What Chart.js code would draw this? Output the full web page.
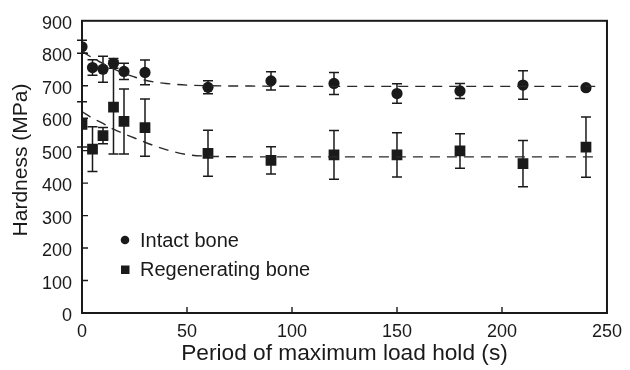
<!DOCTYPE html>
<html lang="en">
<head>
    <meta charset="UTF-8">
    <title>Hardness vs load hold</title>
    <style>
        html, body { margin: 0; padding: 0; background: #fff; }
        .plot { width: 630px; height: 370px; }
    </style>
</head>
<body>
    <div class="plot">
        <canvas id="hardChart"></canvas>
    </div>
    <script src="https://cdn.jsdelivr.net/npm/chart.js@4.4.1/dist/chart.umd.min.js"></script>
    <script>
        // measured points
        const holdTime = [0, 5, 10, 15, 20, 30, 60, 90, 120, 150, 180, 210, 240]
        const intactMean = [820, 756, 751, 769, 744, 741, 695, 715, 707, 676, 684, 702, 694]
        const intactErr = [20, 24, 40, 15, 25, 38, 20, 28, 34, 30, 23, 44, 6]
        const regenMean = [581, 505, 546, 634, 590, 571, 492, 470, 487, 487, 499, 460, 511]
        const regenErr = [70, 69, 25, 144, 100, 88, 71, 42, 75, 68, 53, 71, 93]

        // dashed fit curves
        const fitTime = [0, 5, 10, 15, 20, 25, 30, 35, 40, 50, 60, 80, 120, 245]
        const intactFit = [805, 786, 768, 752, 738, 727, 717, 711, 707, 702, 700, 699, 698, 698]
        const regenFit = [620, 600, 584, 566, 552, 539, 526, 514, 503, 488, 483, 481, 481, 481]

        const xTicks = [0, 50, 100, 150, 200, 250]
        const yTicks = [0, 100, 200, 300, 400, 500, 600, 700, 800, 900]

        const legendNames = ['Intact bone', 'Regenerating bone']
        const xTitle = 'Period of maximum load hold (s)'
        const yTitle = 'Hardness (MPa)'

        const ink = '#1a1a1a'
        const fontName = '"Liberation Sans", Arial, Helvetica, sans-serif'

        function toPoints(xs, ys) {
            return xs.map((v, i) => ({ x: v, y: ys[i] }))
        }

        // error bars, frame, inner ticks, titles, legend
        const decorPlugin = {
            id: 'decor',
            beforeDatasetsDraw(chart) {
                const ctx = chart.ctx
                const xs = chart.scales.x
                const ys = chart.scales.y
                ctx.save()
                ctx.strokeStyle = ink
                ctx.lineWidth = 1.5
                const bars = [[intactMean, intactErr], [regenMean, regenErr]]
                bars.forEach(([mean, err]) => {
                    holdTime.forEach((t, i) => {
                        const px = xs.getPixelForValue(t)
                        const top = ys.getPixelForValue(mean[i] + err[i])
                        const bot = ys.getPixelForValue(mean[i] - err[i])
                        ctx.beginPath()
                        ctx.moveTo(px, top); ctx.lineTo(px, bot)
                        ctx.moveTo(px - 5, top); ctx.lineTo(px + 5, top)
                        ctx.moveTo(px - 5, bot); ctx.lineTo(px + 5, bot)
                        ctx.stroke()
                    })
                })
                ctx.restore()
            },
            afterDraw(chart) {
                const ctx = chart.ctx
                const a = chart.chartArea
                const xs = chart.scales.x
                const ys = chart.scales.y
                ctx.save()
                ctx.strokeStyle = ink
                ctx.lineWidth = 2
                ctx.strokeRect(a.left, a.top, a.right - a.left, a.bottom - a.top)

                ctx.lineWidth = 1.4
                ctx.beginPath()
                xTicks.slice(1, -1).forEach(v => {
                    const px = xs.getPixelForValue(v)
                    ctx.moveTo(px, a.bottom); ctx.lineTo(px, a.bottom - 6)
                })
                yTicks.slice(1, -1).forEach(v => {
                    const py = ys.getPixelForValue(v)
                    ctx.moveTo(a.left, py); ctx.lineTo(a.left + 6, py)
                })
                ctx.stroke()

                // axis titles
                ctx.fillStyle = ink
                ctx.font = '22.7px ' + fontName
                ctx.textAlign = 'center'
                ctx.textBaseline = 'middle'
                ctx.fillText(xTitle, (a.left + a.right) / 2, 354)
                ctx.save()
                ctx.translate(21, 160)
                ctx.rotate(-Math.PI / 2)
                ctx.font = '21px ' + fontName
                ctx.fillText(yTitle, 0, 0)
                ctx.restore()

                // legend
                ctx.font = '20px ' + fontName
                ctx.textAlign = 'left'
                ctx.fillStyle = ink
                ctx.beginPath()
                ctx.arc(125, 240, 4.3, 0, Math.PI * 2)
                ctx.fill()
                ctx.fillRect(121, 265.5, 8.5, 8.5)
                ctx.fillText(legendNames[0], 140, 241)
                ctx.fillText(legendNames[1], 140, 270)
                ctx.restore()
            }
        }

        const hardChart = document.querySelector('#hardChart')

        new Chart(hardChart, {
            type: 'scatter',
            data: {
                datasets: [
                    {
                        label: 'Intact fit',
                        data: toPoints(fitTime, intactFit),
                        showLine: true,
                        borderColor: '#2a2a2a',
                        borderWidth: 1.4,
                        borderDash: [10, 7],
                        pointRadius: 0,
                        cubicInterpolationMode: 'monotone',
                    },
                    {
                        label: 'Regenerating fit',
                        data: toPoints(fitTime, regenFit),
                        showLine: true,
                        borderColor: '#2a2a2a',
                        borderWidth: 1.4,
                        borderDash: [10, 7],
                        pointRadius: 0,
                        cubicInterpolationMode: 'monotone',
                    },
                    {
                        label: legendNames[0],
                        data: toPoints(holdTime, intactMean),
                        pointStyle: 'circle',
                        pointRadius: 5.6,
                        backgroundColor: ink,
                        borderColor: ink,
                        borderWidth: 0,
                    },
                    {
                        label: legendNames[1],
                        data: toPoints(holdTime, regenMean),
                        pointStyle: 'rect',
                        pointRadius: 7.6,
                        backgroundColor: ink,
                        borderColor: ink,
                        borderWidth: 0,
                    },
                ],
            },
            options: {
                animation: false,
                responsive: true,
                maintainAspectRatio: false,
                layout: { padding: { top: 16, right: 16, left: 0, bottom: 0 } },
                plugins: {
                    legend: { display: false },
                    tooltip: { enabled: false },
                },
                scales: {
                    x: {
                        type: 'linear',
                        min: 0,
                        max: 250,
                        afterFit: s => { s.height = 57 },
                        afterBuildTicks: s => { s.ticks = xTicks.map(v => ({ value: v })) },
                        grid: { display: false, drawTicks: false },
                        border: { display: false },
                        ticks: {
                            color: ink,
                            padding: 8,
                            maxRotation: 0,
                            font: { family: fontName, size: 18 },
                        },
                    },
                    y: {
                        min: 0,
                        max: 900,
                        afterFit: s => { s.width = 82 },
                        afterBuildTicks: s => { s.ticks = yTicks.map(v => ({ value: v })) },
                        grid: { display: false, drawTicks: false },
                        border: { display: false },
                        ticks: {
                            color: ink,
                            padding: 10,
                            labelOffset: 3,
                            font: { family: fontName, size: 18 },
                        },
                    },
                },
            },
            plugins: [decorPlugin],
        })
    </script>
</body>
</html>
